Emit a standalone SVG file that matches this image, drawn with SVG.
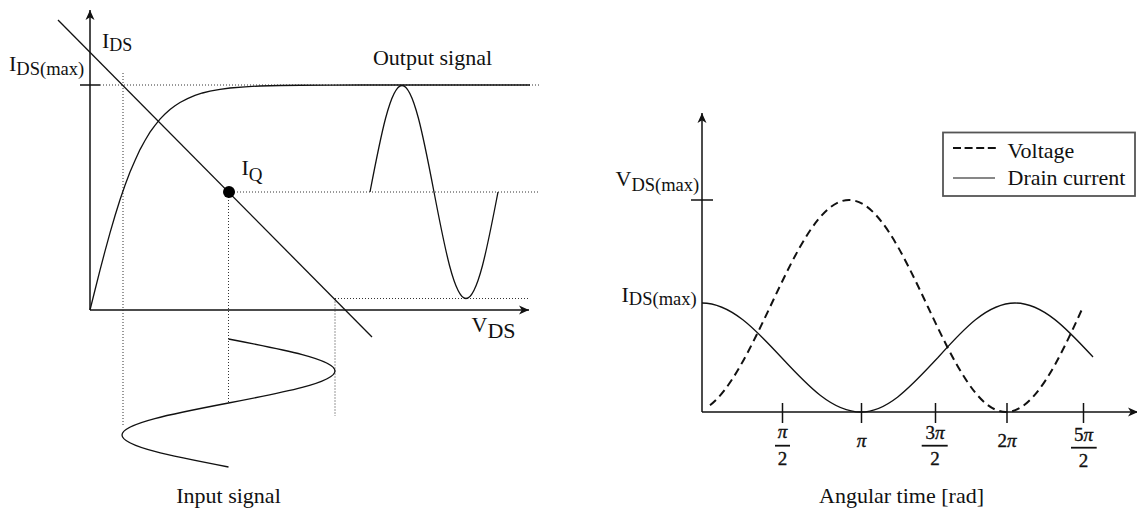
<svg xmlns="http://www.w3.org/2000/svg" width="1137" height="511" viewBox="0 0 1137 511">
<defs>
<marker id="arr" viewBox="-11 -6 12 12" refX="0" refY="0" markerWidth="12" markerHeight="12" markerUnits="userSpaceOnUse" orient="auto">
<path d="M0,0 L-10,-4.5 L-7.2,0 L-10,4.5 Z" fill="#111"/>
</marker>
<style>
.ax{stroke:#111;stroke-width:1.5;fill:none}
.cv{stroke:#111;stroke-width:1.3;fill:none}
.dot{stroke:#333;stroke-width:1;stroke-dasharray:1 2;fill:none}
.dash{stroke:#111;stroke-width:2;stroke-dasharray:8 5;fill:none}
.t{font-family:"Liberation Serif","Times New Roman",serif;font-size:22px;fill:#111}
.m{font-family:"Liberation Serif","Times New Roman",serif;font-size:19px;fill:#111;stroke:#111;stroke-width:0.35}
.pi{font-style:italic;font-size:19px}
.bar{stroke:#111;stroke-width:1.8}
</style>
</defs>
<rect width="1137" height="511" fill="#fff"/>

<g id="left-axes">
<line class="ax" x1="90" y1="310" x2="90" y2="10" marker-end="url(#arr)"/>
<line class="ax" x1="90" y1="310" x2="529" y2="310" marker-end="url(#arr)"/>
<line class="ax" x1="80" y1="85" x2="100" y2="85"/>
</g>

<g id="guides">
<line class="dot" x1="100" y1="85" x2="540" y2="85"/>
<line class="dot" x1="234" y1="192" x2="540" y2="192"/>
<line class="dot" x1="335" y1="298.5" x2="528" y2="298.5"/>
<line class="dot" x1="123" y1="73" x2="123" y2="426"/>
<line class="dot" x1="228.5" y1="197" x2="228.5" y2="403"/>
<line class="dot" x1="335" y1="298.5" x2="335" y2="416"/>
</g>

<g id="connectors">
<line id="load-line" class="cv" x1="58" y1="20" x2="372" y2="337"/>
<polyline id="characteristic" class="cv" points="90,310 95,290 100,270.2 105,251.1 110,232.9 115,215.8 120,199.8 125,185.2 130,172 135,160.4 140,149.6 145,140.5 150,132.2 155,125.4 160,119.1 165,114 170,109.4 175,105.8 180,102.5 187.5,98.6 195,95.3 202.5,93 210,91.1 220,89.3 230,88 245,86.8 260,86 280,85.5 300,85.25 330,85.05 360,85 530,85"/>
<path id="output-wave" class="cv" d="M370,192 C380.44,137.44 390.42,85.5 402,85.5 C413.58,85.5 423.56,137.44 434,192 C444.44,246.56 454.42,298.5 466,298.5 C477.58,298.5 487.56,246.56 498,192"/>
<path id="input-wave" class="cv" d="M228.5,339 C283.06,349.44 335,359.42 335,371 C335,382.58 283.06,392.56 228.5,403 C173.94,413.44 122,423.42 122,435 C122,446.58 173.94,456.56 228.5,467"/>
</g>

<g id="q-point">
<circle cx="229" cy="192" r="6" fill="#000"/>
<text class="t" x="241.5" y="175">I<tspan font-size="19" dy="6">Q</tspan></text>
</g>

<g id="left-labels">
<text class="t" x="102" y="48">I<tspan font-size="18" dy="3">DS</tspan></text>
<text class="t" x="9" y="71">I<tspan font-size="18.5" dy="4">DS(max)</tspan></text>
<text class="t" x="471.5" y="332" font-size="21">V<tspan font-size="22" dy="5.5">DS</tspan></text>
<text class="t" x="432.5" y="65" text-anchor="middle">Output signal</text>
<text class="t" x="228.5" y="503" text-anchor="middle">Input signal</text>
</g>

<g id="right-axes">
<line class="ax" x1="702" y1="412" x2="702" y2="113" marker-end="url(#arr)"/>
<line class="ax" x1="702" y1="412" x2="1138" y2="412" marker-end="url(#arr)"/>
<line class="ax" x1="691" y1="200" x2="713" y2="200"/>
<line class="ax" x1="782.5" y1="403" x2="782.5" y2="423"/>
<line class="ax" x1="861.5" y1="403" x2="861.5" y2="423"/>
<line class="ax" x1="935.5" y1="403" x2="935.5" y2="423"/>
<line class="ax" x1="1007" y1="403" x2="1007" y2="423"/>
<line class="ax" x1="1083.5" y1="403" x2="1083.5" y2="423"/>
</g>

<g id="right-curves">
<path id="voltage" class="dash" d="M710,405.2 C730.17,390.1 750.33,348.78 770.5,306 C796.1,251.7 820.6,200 849,200 C877.41,200 901.9,251.7 927.5,306 C953.1,360.3 977.59,412 1006,412 C1034.41,412 1058.9,360.3 1083,307"/>
<path id="current" class="cv" d="M702,303 C730.77,303 755.58,329.58 781.5,357.5 C807.42,385.42 832.23,412 861,412 C888.87,412 912.89,384.08 938,357.5 C963.11,329.58 987.13,303 1015,303 C1043.23,303 1067.56,329.58 1093,357"/>
</g>

<g id="right-labels">
<text class="t" x="615.5" y="186">V<tspan font-size="18.5" dy="5">DS(max)</tspan></text>
<text class="t" x="621.5" y="301.5">I<tspan font-size="18.5" dy="3">DS(max)</tspan></text>
<text class="t" x="901.5" y="503" text-anchor="middle">Angular time [rad]</text>
</g>

<g id="tick-labels">
<text class="m" x="782.5" y="438" text-anchor="middle"><tspan class="pi">π</tspan></text>
<line class="bar" x1="775" y1="445.7" x2="790" y2="445.7"/>
<text class="m" x="782.5" y="465" text-anchor="middle">2</text>
<text class="m" x="861.5" y="446.5" text-anchor="middle"><tspan class="pi">π</tspan></text>
<text class="m" x="935" y="438.5" text-anchor="middle">3<tspan class="pi">π</tspan></text>
<line class="bar" x1="921.7" y1="445.7" x2="947.7" y2="445.7"/>
<text class="m" x="935" y="465" text-anchor="middle">2</text>
<text class="m" x="1007" y="446.5" text-anchor="middle">2<tspan class="pi">π</tspan></text>
<text class="m" x="1083.5" y="441" text-anchor="middle">5<tspan class="pi">π</tspan></text>
<line class="bar" x1="1071" y1="447.7" x2="1096.7" y2="447.7"/>
<text class="m" x="1083.5" y="467" text-anchor="middle">2</text>
</g>

<g id="legend">
<rect x="943" y="132.5" width="192" height="63.5" fill="#fff" stroke="#555" stroke-width="1.8"/>
<line x1="953" y1="148" x2="996" y2="148" stroke="#111" stroke-width="2" stroke-dasharray="8 3.6"/>
<line x1="953" y1="178" x2="995" y2="178" stroke="#111" stroke-width="1.2"/>
<text class="t" x="1007.5" y="157.5">Voltage</text>
<text class="t" x="1007.5" y="185">Drain current</text>
</g>
</svg>
